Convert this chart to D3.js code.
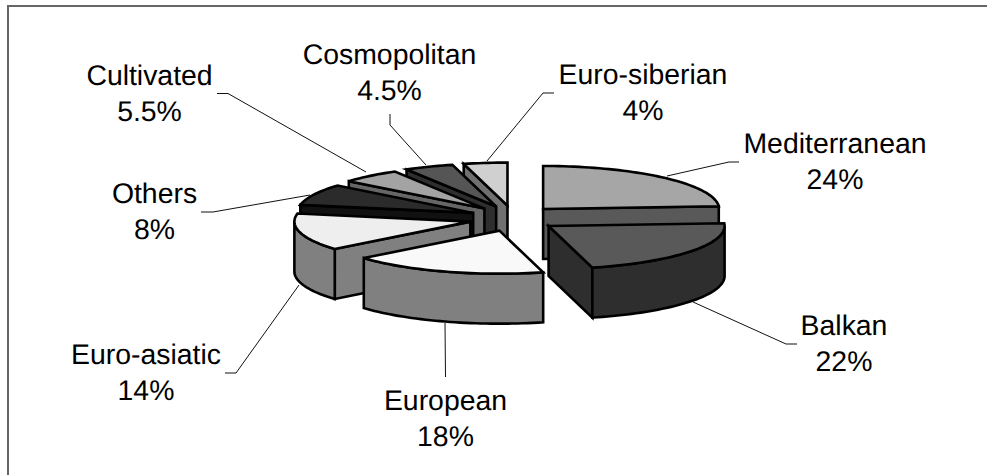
<!DOCTYPE html>
<html><head><meta charset="utf-8">
<script src="https://cdn.jsdelivr.net/npm/d3@7"></script>
<style>html,body{margin:0;background:#fff}svg{display:block}text{font-family:"Liberation Sans",Arial,sans-serif;fill:#000;text-anchor:middle;text-rendering:geometricPrecision}</style>
</head><body><svg id="c" width="987" height="475"></svg>
<script>
const categories=["Mediterranean","Balkan","European","Euro-asiatic","Others","Cultivated","Cosmopolitan","Euro-siberian"];
const values=[24,22,18,14,8,5.5,4.5,4];
const valueLabels=["24%","22%","18%","14%","8%","5.5%","4.5%","4%"];
const topColors=["#a6a6a6","#595959","#f9f9f9","#eeeeee","#2b2b2b","#a3a3a3","#555555","#d0d0d0"];
const sideColors=["#595959","#2e2e2e","#808080","#808080","#111111","#666666","#2e2e2e","#707070"];
const drawOrder=[0,7,6,5,4,3,1,2];
// layout of labels: centre x, first baseline; leader: polyline
const labelLayout=[[835,153],[844,335],[445.5,410],[146,364],[154.5,203],[149.5,85],[389.5,63.5],[643,83.5]];
const leaderLayout=[
 [[739,162],[729,162],[667,176]],
 [[797,344],[786,344],[693,302]],
 [[445.5,377],[445,323]],
 [[225,373],[236,373],[299,285]],
 [[201,212],[213,212],[310,195]],
 [[217,93.5],[228,93.5],[366,172]],
 [[390,114],[390,125],[426,165]],
 [[554,93],[543,93],[487,161]]
];
const svg=d3.select("#c");
const W=987,H=475;
svg.append("path").attr("d",`M8,${H}V6H${W}`).attr("fill","none").attr("stroke","#666").attr("stroke-width",2);

const cx=513,cy=218.4,rx=176,ry=43,depth=50,ex=44,ey=12.9;
const pie=d3.pie().sort(null).value(d=>d)(values);
const line=d3.line();
function apex(p){const m=(p.startAngle+p.endAngle)/2;return [cx+ex*Math.sin(m),cy-ey*Math.cos(m)];}
function pt(c,a,dy=0){return [c[0]+rx*Math.sin(a),c[1]-ry*Math.cos(a)+dy];}
function arcPts(c,a0,a1,dy=0){const n=Math.max(2,Math.ceil((a1-a0)/0.03));return d3.range(n+1).map(i=>pt(c,a0+(a1-a0)*i/n,dy));}

const g=svg.append("g").attr("stroke","#000").attr("stroke-width",2.6).attr("stroke-linejoin","miter");
drawOrder.forEach(i=>{
  const p=pie[i],c=apex(p),s=sideColors[i],t=topColors[i],a0=p.startAngle,a1=p.endAngle;
  const c2=[c[0],c[1]+depth];
  const wall=a=>{const q=pt(c,a);return line([c,q,[q[0],q[1]+depth],c2])+"Z";};
  if(a0>=Math.PI) g.append("path").attr("d",wall(a0)).attr("fill",s);
  if(a1<=Math.PI) g.append("path").attr("d",wall(a1)).attr("fill",s);
  const r0=Math.max(a0,Math.PI/2),r1=Math.min(a1,3*Math.PI/2);
  if(r1>r0){
    const up=arcPts(c,r0,r1),dn=arcPts(c,r0,r1,depth).reverse();
    g.append("path").attr("d",line(up.concat(dn))+"Z").attr("fill",s);
  }
  g.append("path").attr("d",line([c].concat(arcPts(c,a0,a1)))+"Z").attr("fill",t);
});
const lg=svg.append("g").attr("fill","none").attr("stroke","#111").attr("stroke-width",1);
leaderLayout.forEach(l=>lg.append("path").attr("d",line(l)));
const tg=svg.append("g").style("font-size","28.4px");
categories.forEach((n,i)=>{
  const [x,y]=labelLayout[i];
  tg.append("text").attr("x",x).attr("y",y).text(n);
  tg.append("text").attr("x",x).attr("y",y+36).text(valueLabels[i]);
});
</script></body></html>
